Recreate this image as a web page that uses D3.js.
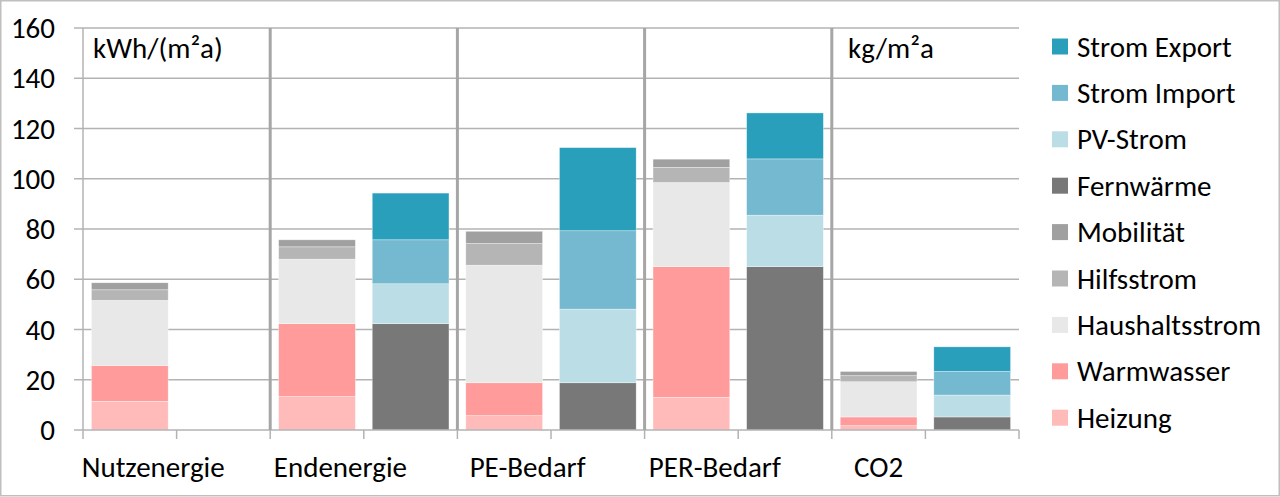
<!DOCTYPE html>
<html>
<head>
<meta charset="utf-8">
<script src="https://cdn.jsdelivr.net/npm/d3@7"></script>
<style>
  html, body { margin: 0; padding: 0; background: #fff; }
  svg { display: block; font-family: Carlito, Calibri, Lato, sans-serif; }
</style>
</head>
<body>
<div id="chart"></div>
<script>
// Slots: two bars per group (use side / supply side)
const groups = ["Nutzenergie", "Endenergie", "PE-Bedarf", "PER-Bedarf", "CO2"];
const slots = groups.flatMap((g) => [g + "|1", g + "|2"]);

// Series, bottom to top of stack
const seriesNames = ["Heizung", "Warmwasser", "Haushaltsstrom", "Hilfsstrom", "Mobilität",
  "Fernwärme", "PV-Strom", "Strom Import", "Strom Export"];

const heizung        = [11.4, 0, 13.3, 0,  5.7, 0, 13.0, 0,  1.7, 0];
const warmwasser     = [14.3, 0, 29.0, 0, 13.1, 0, 52.0, 0,  3.5, 0];
const haushaltsstrom = [25.9, 0, 25.7, 0, 46.8, 0, 33.5, 0, 14.0, 0];
const hilfsstrom     = [ 4.2, 0,  4.9, 0,  8.6, 0,  6.0, 0,  2.4, 0];
const mobilitaet     = [ 2.8, 0,  2.8, 0,  4.9, 0,  3.3, 0,  1.7, 0];
const fernwaerme     = [0, 0, 0, 42.3, 0, 18.8, 0, 65.0, 0, 5.2];
const pvStrom        = [0, 0, 0, 15.9, 0, 29.3, 0, 20.5, 0, 8.7];
const stromImport    = [0, 0, 0, 17.5, 0, 31.2, 0, 22.4, 0, 9.4];
const stromExport    = [0, 0, 0, 18.6, 0, 33.1, 0, 18.3, 0, 9.8];

const seriesValues = [heizung, warmwasser, haushaltsstrom, hilfsstrom, mobilitaet,
  fernwaerme, pvStrom, stromImport, stromExport];

const seriesColors = ["#ffbaba", "#ff9b9b", "#e8e8e8", "#b5b5b5", "#a0a0a0",
  "#787878", "#bbdde6", "#74b9d0", "#2a9fbc"];

const yTicks = [0, 20, 40, 60, 80, 100, 120, 140, 160];
const unitLabels = ["kWh/(m²a)", "kg/m²a"];

// ---- layout ----
const W = 1280, H = 497;
const plot = { left: 83, right: 1019, top: 28, bottom: 430 };
const gridColor = "#b3b3b3";
const fontSize = 29;

const svg = d3.select("#chart").append("svg")
  .attr("width", W).attr("height", H);

// chart border
svg.append("rect")
  .attr("x", 0.75).attr("y", 0.75)
  .attr("width", W - 1.5).attr("height", H - 2)
  .attr("fill", "#fff").attr("stroke", "#bfbfbf").attr("stroke-width", 1.5);

const x = d3.scaleBand()
  .domain(slots)
  .range([plot.left, plot.right])
  .paddingInner(0.18)
  .paddingOuter(0.09);

const y = d3.scaleLinear().domain([0, 160]).range([plot.bottom, plot.top]);
const step = x.step();
const slotLeft = (s) => x(s) - step * x.paddingInner() / 2;

// gridlines + left tick marks
svg.append("g").selectAll("line").data(yTicks.filter((t) => t > 0)).join("line")
  .attr("x1", plot.left - 9).attr("x2", plot.right)
  .attr("y1", (d) => y(d)).attr("y2", (d) => y(d))
  .attr("stroke", gridColor).attr("stroke-width", 1.5);

// tick labels
svg.append("g").selectAll("text").data(yTicks).join("text")
  .attr("x", 55).attr("y", (d) => y(d))
  .attr("dy", "0.35em")
  .attr("text-anchor", "end")
  .attr("font-size", fontSize)
  .attr("fill", "#000")
  .text((d) => d);

// stacked bars
const table = slots.map((s, i) => {
  const row = { slot: s };
  seriesNames.forEach((n, k) => { row[n] = seriesValues[k][i]; });
  return row;
});
const stacked = d3.stack().keys(seriesNames)(table);

svg.append("g").selectAll("g").data(stacked).join("g")
  .attr("fill", (d, i) => seriesColors[i])
  .selectAll("rect")
  .data((d) => d.filter((p) => p[1] - p[0] > 0))
  .join("rect")
  .attr("x", (p) => x(p.data.slot))
  .attr("width", x.bandwidth())
  .attr("y", (p) => y(p[1]))
  .attr("height", (p) => y(p[0]) - y(p[1]))
  .attr("stroke", "rgba(255,255,255,0.6)")
  .attr("stroke-width", 0.6);

// y axis line
svg.append("line")
  .attr("x1", plot.left).attr("x2", plot.left)
  .attr("y1", plot.top).attr("y2", plot.bottom)
  .attr("stroke", gridColor).attr("stroke-width", 1.5);

// x axis line + tick marks at slot boundaries
svg.append("line")
  .attr("x1", plot.left - 9).attr("x2", plot.right)
  .attr("y1", plot.bottom).attr("y2", plot.bottom)
  .attr("stroke", gridColor).attr("stroke-width", 1.5);

const boundaries = slots.map(slotLeft).concat([plot.right]);
svg.append("g").selectAll("line").data(boundaries).join("line")
  .attr("x1", (d) => d).attr("x2", (d) => d)
  .attr("y1", plot.bottom).attr("y2", plot.bottom + 9)
  .attr("stroke", gridColor).attr("stroke-width", 1.5);

// group separators
svg.append("g").selectAll("line").data(groups.slice(1)).join("line")
  .attr("x1", (g) => slotLeft(g + "|1")).attr("x2", (g) => slotLeft(g + "|1"))
  .attr("y1", plot.top).attr("y2", plot.bottom)
  .attr("stroke", "#a6a6a6").attr("stroke-width", 3);

// group labels
svg.append("g").selectAll("text").data(groups).join("text")
  .attr("x", (g) => slotLeft(g + "|2") - step * (g === "CO2" ? 0.5 : 0.25))
  .attr("y", 477)
  .attr("text-anchor", "middle")
  .attr("font-size", fontSize)
  .attr("fill", "#000")
  .text((g) => g);

// unit labels
svg.append("text").attr("x", 93).attr("y", 58)
  .attr("font-size", fontSize).attr("fill", "#000").text(unitLabels[0]);
svg.append("text").attr("x", 848).attr("y", 58)
  .attr("font-size", fontSize).attr("fill", "#000").text(unitLabels[1]);

// legend (top = last series)
const legendItems = seriesNames.map((n, i) => ({ name: n, color: seriesColors[i] })).reverse();
const legend = svg.append("g").selectAll("g").data(legendItems).join("g")
  .attr("transform", (d, i) => `translate(1052, ${46.5 + i * 46.4})`);

legend.append("rect")
  .attr("x", 0).attr("y", -8).attr("width", 16).attr("height", 16)
  .attr("fill", (d) => d.color);

legend.append("text")
  .attr("x", 25).attr("y", 0).attr("dy", "0.35em")
  .attr("font-size", fontSize).attr("fill", "#000")
  .text((d) => d.name);
</script>
</body>
</html>
